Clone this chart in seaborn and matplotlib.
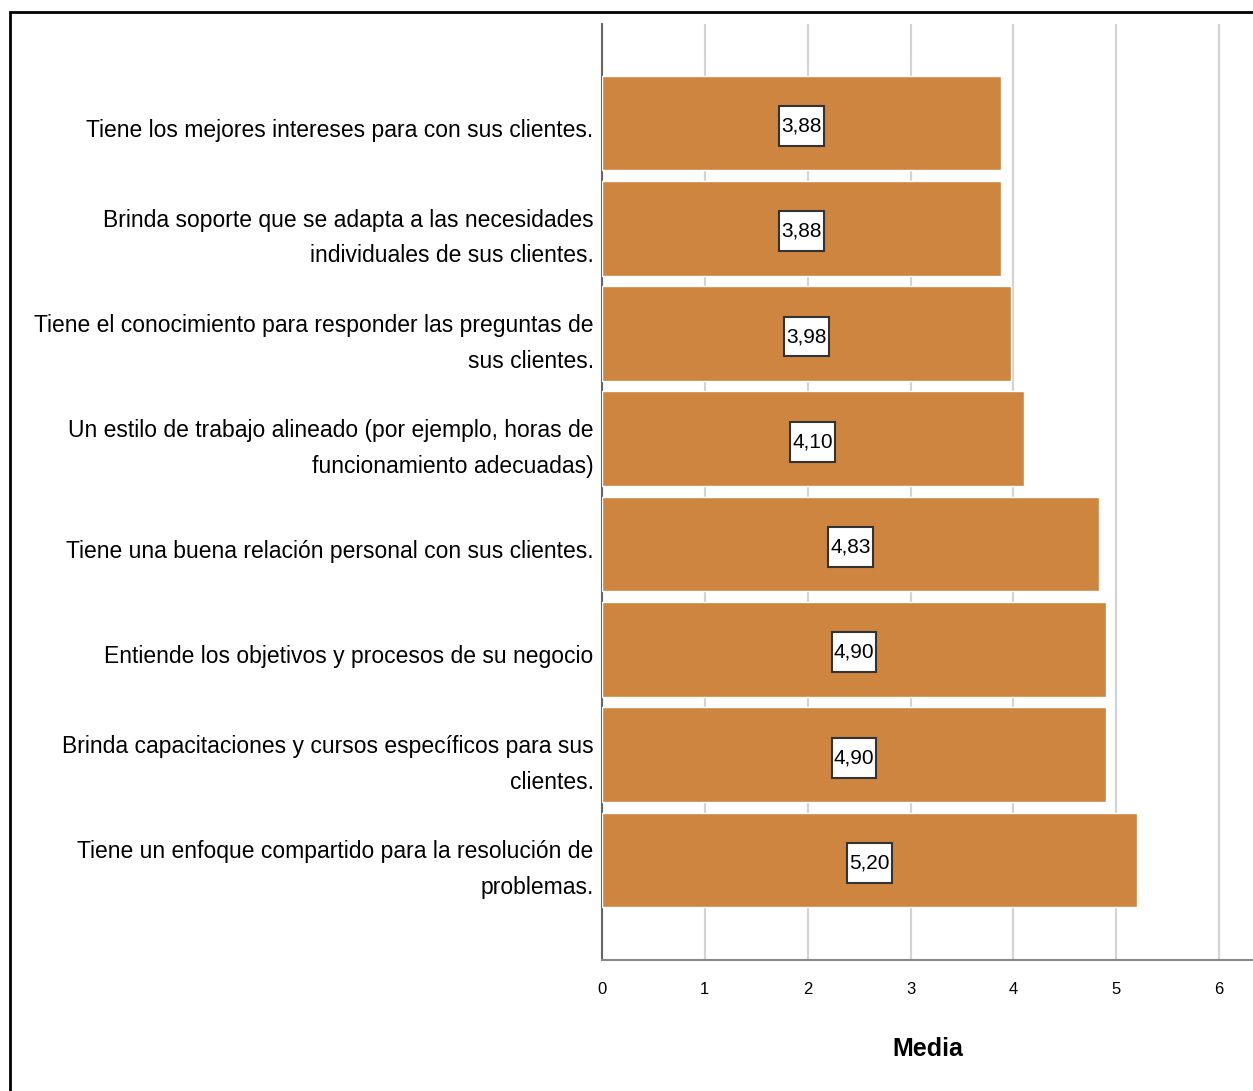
import matplotlib
matplotlib.use("Agg")
import matplotlib.pyplot as plt
import matplotlib.transforms as mtransforms
from matplotlib.path import Path
import seaborn as sns
import pandas as pd
from matplotlib.patches import Rectangle

categories = [
    "Tiene los mejores intereses para con sus clientes.",
    "Brinda soporte que se adapta a las necesidades\nindividuales de sus clientes.",
    "Tiene el conocimiento para responder las preguntas de\nsus clientes.",
    "Un estilo de trabajo alineado (por ejemplo, horas de\nfuncionamiento adecuadas)",
    "Tiene una buena relación personal con sus clientes.",
    "Entiende los objetivos y procesos de su negocio",
    "Brinda capacitaciones y cursos específicos para sus\nclientes.",
    "Tiene un enfoque compartido para la resolución de\nproblemas.",
]
values = [3.88, 3.88, 3.98, 4.10, 4.83, 4.90, 4.90, 5.20]
xticks = [0, 1, 2, 3, 4, 5, 6]
xlabel = "Media"

sns.set_theme(style="white")
FAM = ["Liberation Sans Narrow", "Liberation Sans", "DejaVu Sans"]
plt.rcParams["font.family"] = FAM
plt.rcParams["text.color"] = "black"
plt.rcParams["xtick.color"] = "black"
plt.rcParams["ytick.color"] = "black"
plt.rcParams["axes.labelcolor"] = "black"

df = pd.DataFrame({"cat": categories, "val": values})

fig = plt.figure(figsize=(12.53, 10.91), dpi=100)
ax = fig.add_axes([602 / 1253, 1 - 960 / 1091, 651 / 1253, 936 / 1091])

sns.barplot(data=df, x="val", y="cat", orient="h", color="#CD853F",
            saturation=1, width=0.9, ax=ax, zorder=3)

ax.set_xlim(0, 6.33)
ax.set_ylim(7.95, -0.94)
ax.set_xticks(xticks)
ax.set_xticklabels([str(t) for t in xticks], fontsize=12, color="black")
ax.tick_params(axis="x", length=0, pad=16)
ax.tick_params(axis="y", length=0, pad=6)
offset_single = mtransforms.ScaledTranslation(0, -5 / 100, fig.dpi_scale_trans)
offset_double = mtransforms.ScaledTranslation(0, -1 / 100, fig.dpi_scale_trans)
for lab in ax.get_yticklabels():
    lab.set_fontsize(16.5)
    lab.set_color("black")
    lab.set_ha("right")
    lab.set_multialignment("right")
    lab.set_linespacing(1.7)
    off = offset_double if "\n" in lab.get_text() else offset_single
    lab.set_transform(lab.get_transform() + off)
ax.set_ylabel("")
ax.set_xlabel(xlabel, fontsize=18, fontweight="bold", labelpad=29, color="black")

ax.grid(axis="x", color="#d3d3d3", linewidth=1.6, zorder=0)
ax.grid(axis="y", visible=False)
ax.set_axisbelow(True)
for s in ["top", "right"]:
    ax.spines[s].set_visible(False)
ax.spines["left"].set_color("#666666")
ax.spines["left"].set_linewidth(1.5)
ax.spines["bottom"].set_color("#888888")
ax.spines["bottom"].set_linewidth(1.5)


def tall_box(x0, y0, width, height, mutation_size):
    px = 0.1 * mutation_size
    py = 0.5 * mutation_size
    x0 -= px
    y0 -= py
    x1 = x0 + width + 2 * px
    y1 = y0 + height + 2 * py
    return Path([(x0, y0), (x1, y0), (x1, y1), (x0, y1), (x0, y0)], closed=True)


val_offset = mtransforms.ScaledTranslation(0, -3 / 100, fig.dpi_scale_trans)
for i, v in enumerate(values):
    ax.text(v / 2, i, f"{v:.2f}".replace(".", ","), ha="center", va="center",
            fontsize=15, zorder=5, color="black",
            transform=ax.transData + val_offset,
            bbox=dict(boxstyle=tall_box, facecolor="white",
                      edgecolor="#333333", linewidth=1.5))

fig.patches.append(Rectangle((10 / 1253, -0.1), 1.2, 1 - 12 / 1091 + 0.1,
                             transform=fig.transFigure, fill=False,
                             edgecolor="black", linewidth=2, figure=fig))

fig.savefig("out.png", dpi=100)
